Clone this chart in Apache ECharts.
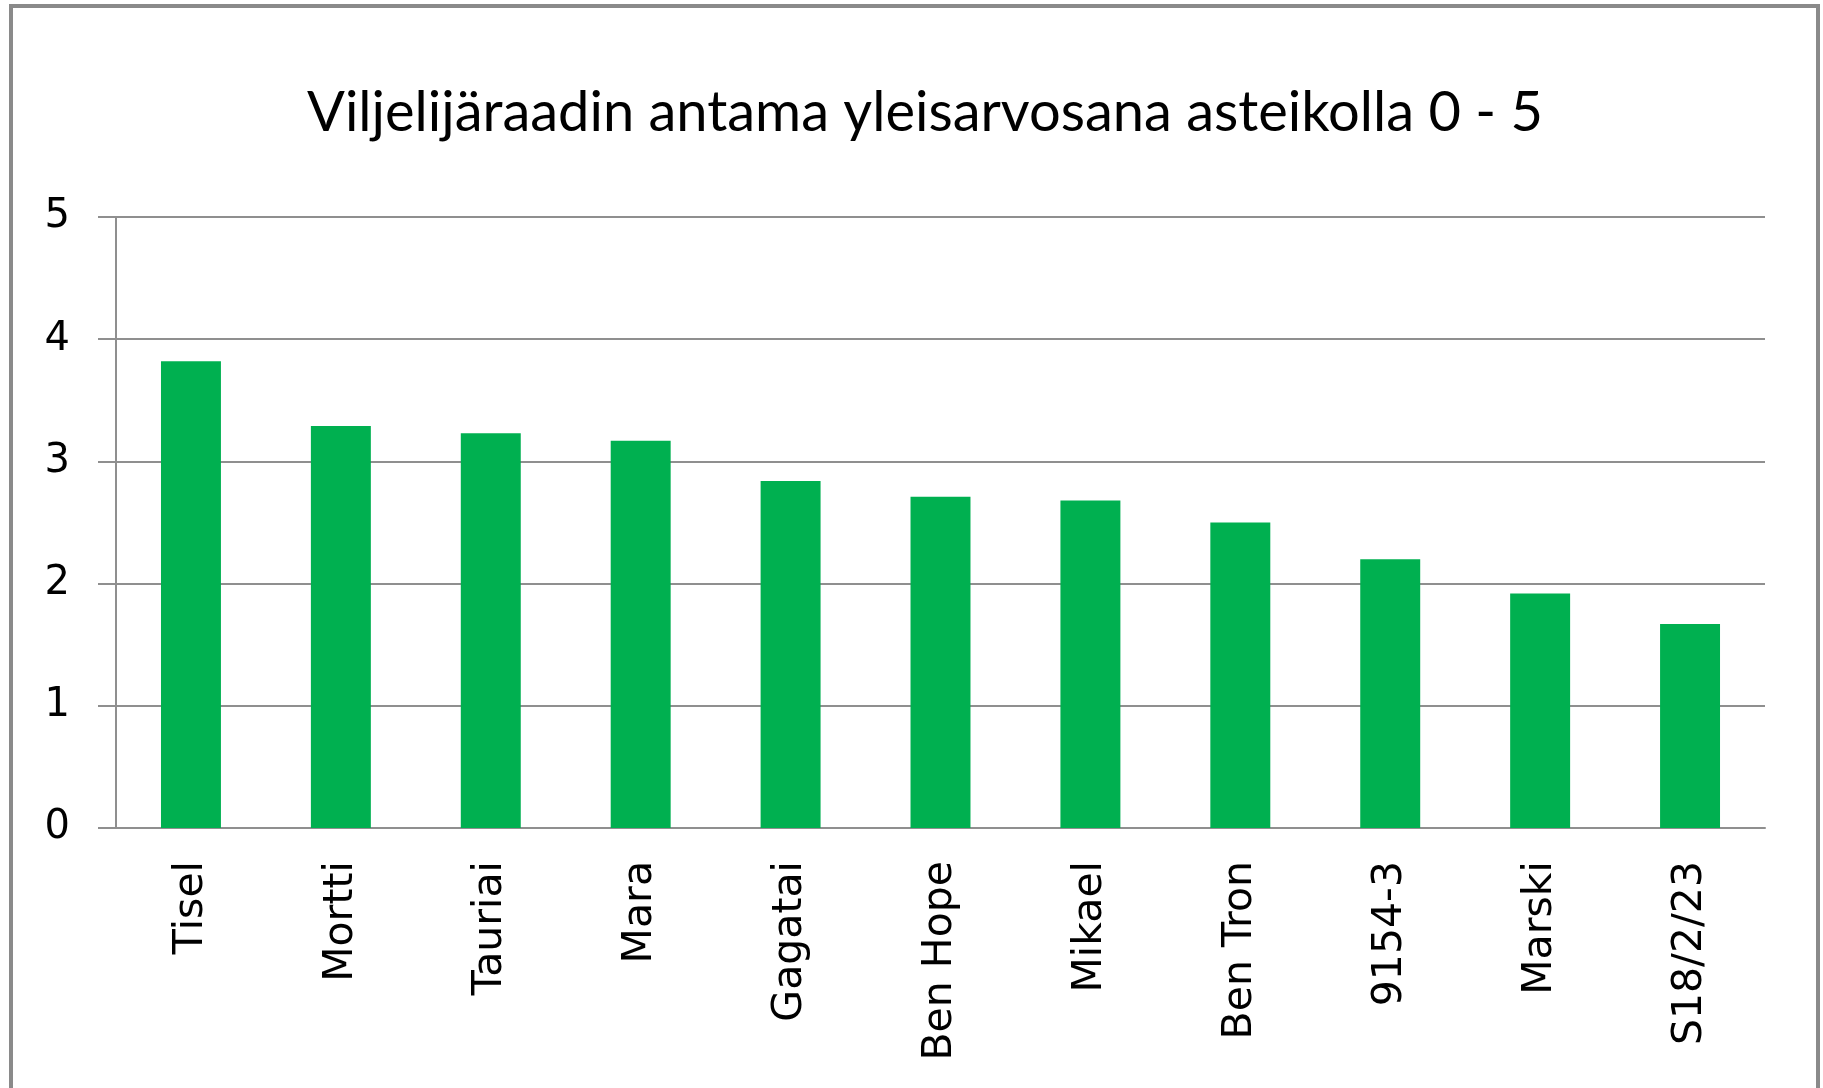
<!DOCTYPE html>
<html>
<head>
<meta charset="utf-8">
<script src="https://cdn.jsdelivr.net/npm/echarts@6/dist/echarts.min.js"></script>
<style>
    html, body { margin: 0; padding: 0; background: #fff; }
    #bar-chart { width: 1823px; height: 1088px; }
</style>
</head>
<body>
<div id="bar-chart"></div>
<script>
var varieties = ['Tisel', 'Mortti', 'Tauriai', 'Mara', 'Gagatai', 'Ben Hope', 'Mikael', 'Ben Tron', '9154-3', 'Marski', 'S18/2/23'];
var grades = [3.82, 3.29, 3.23, 3.17, 2.84, 2.71, 2.68, 2.50, 2.20, 1.92, 1.67];
var gradeTicks = [0, 1, 2, 3, 4, 5];

window.addEventListener('load', function() {
    var myChart = echarts.init(document.getElementById('bar-chart')),
        gray = '#8f8f8f',
        option = {
            backgroundColor: '#ffffff',
            animation: false,
            title: {
                text: 'Viljelijäraadin antama yleisarvosana asteikolla 0 - 5',
                left: 302,
                top: 80,
                textStyle: {
                    fontFamily: 'Lato',
                    fontSize: 56,
                    fontWeight: 'normal',
                    color: '#000'
                }
            },
            graphic: [
                {
                    type: 'rect',
                    shape: { x: 11, y: 6, width: 1807, height: 1100 },
                    style: { fill: 'none', stroke: '#8a8a8a', lineWidth: 4 }
                }
            ],
            grid: {
                left: 116,
                right: 58,
                top: 217,
                bottom: 260
            },
            xAxis: {
                type: 'category',
                data: varieties,
                axisLine: { lineStyle: { color: gray, width: 2 } },
                axisTick: { length: 18, lineStyle: { color: gray, width: 2 } },
                axisLabel: {
                    rotate: 90,
                    margin: 33,
                    interval: 0,
                    fontFamily: 'DejaVu Sans',
                    fontSize: 41,
                    color: '#000'
                }
            },
            yAxis: {
                type: 'value',
                min: gradeTicks[0],
                max: gradeTicks[gradeTicks.length - 1],
                interval: 1,
                axisLine: { show: true, lineStyle: { color: gray, width: 2 } },
                axisTick: { show: true, length: 18, lineStyle: { color: gray, width: 2 } },
                splitLine: { lineStyle: { color: gray, width: 2 } },
                axisLabel: {
                    margin: 46,
                    fontFamily: 'DejaVu Sans',
                    fontSize: 40,
                    color: '#000'
                }
            },
            series: [
                {
                    type: 'bar',
                    data: grades,
                    barWidth: '40%',
                    itemStyle: { color: '#00b050' }
                }
            ]
        };
    myChart.setOption(option);
});
</script>
</body>
</html>
